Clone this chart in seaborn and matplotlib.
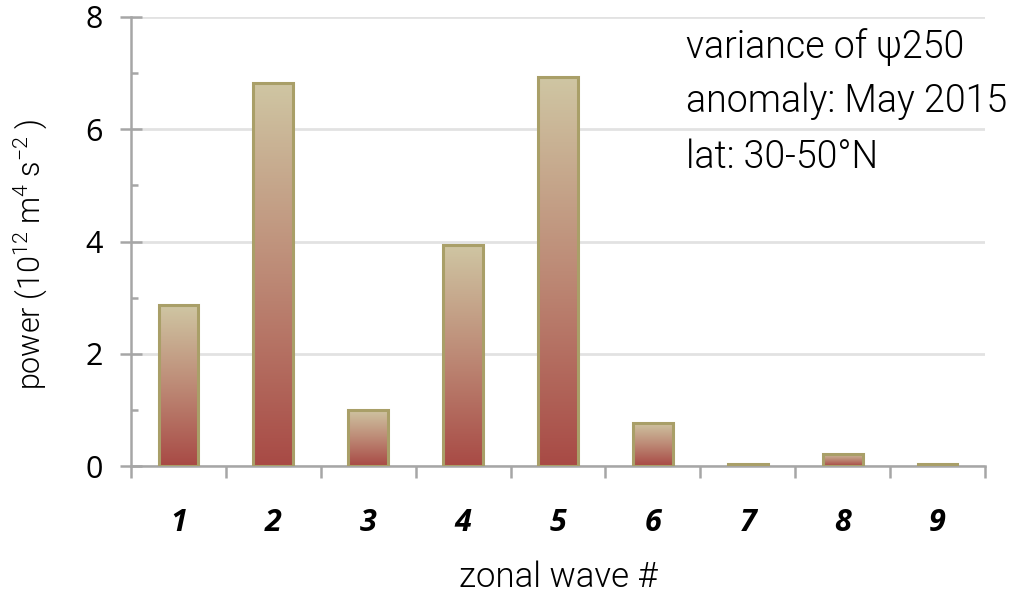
import numpy as np
import pandas as pd
import seaborn as sns
import matplotlib.pyplot as plt
from matplotlib.colors import LinearSegmentedColormap
from matplotlib.ticker import FixedLocator

waves = ["1", "2", "3", "4", "5", "6", "7", "8", "9"]
power = [2.86, 6.83, 1.00, 3.94, 6.93, 0.77, 0.03, 0.22, 0.03]
ann_lines = ["variance of ψ250", "anomaly: May 2015", "lat: 30-50°N"]

sns.set_theme(style="white")
plt.rcParams["font.family"] = ["Open Sans", "DejaVu Sans"]
plt.rcParams["mathtext.fontset"] = "custom"
plt.rcParams["mathtext.rm"] = "Roboto:weight=300"
plt.rcParams["text.color"] = "black"
plt.rcParams["axes.labelcolor"] = "black"

df = pd.DataFrame({"wave": waves, "power": power})

fig = plt.figure(figsize=(10.21, 5.97), dpi=100)
ax = fig.add_axes([131 / 1021, 1 - 466 / 597, (985 - 131) / 1021, (466 - 17) / 597])

sns.barplot(data=df, x="wave", y="power", width=0.42, color="#bb8877",
            edgecolor="#a99f68", linewidth=2.2, ax=ax, zorder=3)

# vertical gradient inside each bar: red at bottom, beige at top
grad = LinearSegmentedColormap.from_list("bar", ["#a84a45", "#bd8a76", "#cfc6a3"])
g = np.linspace(0, 1, 256).reshape(-1, 1)
for p in ax.patches:
    x0, y0, w, h = p.get_x(), p.get_y(), p.get_width(), p.get_height()
    ax.imshow(g, cmap=grad, origin="lower", aspect="auto", interpolation="bilinear",
              extent=[x0, x0 + w, y0, y0 + h], zorder=3)
    p.set_facecolor("none")
    p.set_zorder(4)

ax.set_xlim(-0.5, 8.5)
ax.set_ylim(0, 8)

axis_col = "#a6a6a6"
for s in ["top", "right"]:
    ax.spines[s].set_visible(False)
for s in ["left", "bottom"]:
    ax.spines[s].set_color(axis_col)
    ax.spines[s].set_linewidth(1.8)

ax.yaxis.grid(True, color="#e2e2e2", linewidth=2, zorder=0)
ax.set_axisbelow(True)

ax.set_yticks([0, 2, 4, 6, 8])
ax.yaxis.set_minor_locator(FixedLocator([1, 3, 5, 7]))
ax.tick_params(axis="y", which="major", direction="inout", length=16, width=1.8,
               color=axis_col, labelsize=22, pad=12, left=True)
ax.tick_params(axis="y", which="minor", direction="in", length=5, width=1.8,
               color=axis_col, left=True)

ax.xaxis.set_minor_locator(FixedLocator(np.arange(-0.5, 9, 1)))
ax.tick_params(axis="x", which="major", length=0, labelsize=22, pad=30)
ax.tick_params(axis="x", which="minor", direction="out", length=8.5, width=1.8,
               color=axis_col, bottom=True)
for lab in ax.get_xticklabels():
    lab.set_fontweight("bold")
    lab.set_fontstyle("italic")
    lab.set_color("black")
for lab in ax.get_yticklabels():
    lab.set_color("black")

ax.set_xlabel("zonal wave #", fontsize=25, family="Roboto", fontweight=300,
              color="black", va="center")
ax.xaxis.set_label_coords(0.5, (466 - 577) / 449)
ax.set_ylabel("power (10$^{\\mathregular{12}}$ m$^{\\mathregular{4}}$ s$^{\\mathregular{-2}}$ )",
              fontsize=22, family="Roboto", fontweight=300, color="black", va="center")
ax.yaxis.set_label_coords((30 - 131) / 854, (466 - 254) / 449)

for line, yy in zip(ann_lines, [47, 101, 157]):
    fig.text(686 / 1021, 1 - yy / 597, line, fontsize=27, family="Roboto",
             fontweight=300, color="black", va="center", ha="left")

fig.savefig("out.png", dpi=100)
